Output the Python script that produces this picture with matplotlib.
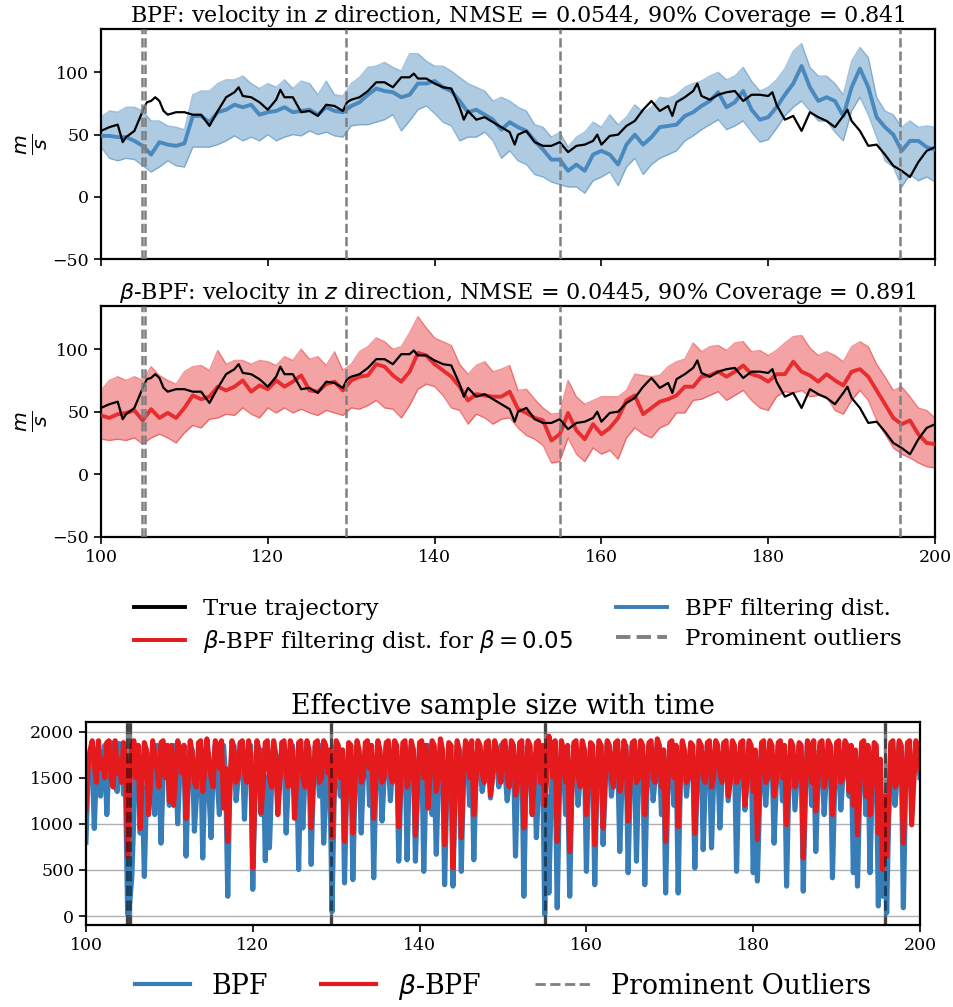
import numpy as np
import matplotlib
matplotlib.use('Agg')
import matplotlib.pyplot as plt
from matplotlib.lines import Line2D

plt.rcParams['font.family'] = 'DejaVu Serif'

# ----------------------------------------------------------
# data
# ----------------------------------------------------------
t_true = [100, 101, 102, 102.6, 103, 104, 104.5, 105, 105.5, 106, 106.5, 107, 107.5, 108, 109,
          110, 111, 112, 113, 114, 115, 116, 116.5, 117, 118, 119, 120, 121, 121.5, 122, 123,
          124, 125, 126, 127, 128, 129, 129.5, 130, 131, 132, 133, 134, 135, 136, 137, 137.5,
          138, 139, 140, 141, 142, 143, 143.5, 144, 145, 146, 147, 148, 149, 149.6, 150, 151,
          152, 153, 154, 155, 156, 157, 158, 159, 159.5, 160, 161, 162, 163, 164, 165, 166,
          167, 168, 168.5, 169, 170, 171, 171.5, 172, 173, 174, 175, 176, 177, 178, 179, 180,
          180.5, 181, 182, 183, 184, 185, 186, 187, 188, 189, 189.5, 190, 191, 192, 193, 194,
          195, 196, 197, 197.5, 198, 199, 200]
v_true = [53, 56, 58, 44, 48, 53, 61, 69, 76, 77, 80, 77, 69, 66, 68,
          68, 66, 66, 57, 69, 80, 84, 88, 81, 80, 76, 70, 78, 86, 80, 80,
          68, 69, 65, 74, 73, 69, 76, 78, 80, 85, 92, 92, 88, 96, 96, 99,
          95, 95, 91, 88, 87, 72, 62, 69, 62, 64, 60, 56, 52, 42, 50, 53,
          44, 41, 41, 44, 36, 41, 42, 45, 50, 42, 49, 50, 57, 61, 70, 77,
          69, 73, 65, 76, 80, 85, 91, 81, 78, 82, 84, 85, 77, 82, 82, 81,
          84, 74, 62, 65, 53, 68, 64, 61, 56, 65, 70, 61, 53, 41, 42, 34,
          25, 21, 16, 22, 28, 37, 40]

t_grid = np.arange(100, 201)

bpf_mean = [49, 49, 48, 48, 45, 41, 34, 44, 42, 41, 43, 65, 65, 60, 68, 70, 74, 72, 74, 66,
            68, 69, 72, 68, 69, 70, 66, 72, 69, 68, 73, 76, 82, 87, 85, 84, 80, 82, 91, 91,
            93, 88, 85, 77, 68, 70, 66, 62, 54, 60, 56, 53, 45, 38, 30, 30, 21, 26, 21, 34,
            37, 34, 26, 42, 50, 42, 48, 56, 57, 58, 65, 68, 73, 77, 84, 72, 76, 85, 70, 62,
            64, 72, 82, 91, 105, 88, 77, 80, 77, 65, 88, 103, 88, 64, 56, 50, 37, 45, 45, 40,
            38]
bpf_upper = [64, 69, 68, 72, 72, 69, 61, 61, 57, 56, 54, 82, 85, 85, 91, 94, 94, 97, 91, 87,
             91, 88, 94, 87, 93, 91, 82, 93, 82, 81, 91, 96, 104, 105, 108, 104, 101, 115, 115, 109,
             105, 105, 101, 96, 91, 88, 85, 77, 80, 77, 72, 69, 58, 56, 48, 52, 40, 48, 52, 60,
             56, 66, 58, 64, 74, 68, 72, 80, 79, 82, 88, 91, 93, 97, 100, 94, 97, 104, 93, 85,
             88, 94, 103, 117, 123, 104, 97, 97, 91, 82, 109, 120, 112, 80, 69, 66, 56, 61, 56, 57,
             56]
bpf_lower = [40, 31, 29, 31, 30, 25, 20, 24, 29, 25, 24, 40, 40, 40, 42, 45, 49, 45, 48, 45,
             50, 45, 48, 50, 49, 53, 50, 52, 49, 48, 57, 58, 58, 60, 62, 66, 53, 61, 70, 73,
             67, 60, 57, 45, 48, 48, 52, 45, 31, 37, 29, 26, 18, 16, 12, 10, 8, 8, 3, 13,
             16, 20, 9, 24, 31, 18, 26, 31, 34, 37, 45, 49, 54, 58, 62, 54, 57, 61, 52, 44,
             46, 55, 65, 72, 77, 69, 61, 61, 52, 45, 69, 80, 66, 48, 29, 24, 8, 18, 13, 16,
             12]

beta_mean = [47, 45, 48, 49, 51, 43, 52, 45, 49, 45, 53, 63, 60, 62, 70, 67, 70, 75, 66, 71,
             68, 75, 70, 74, 79, 67, 66, 72, 74, 67, 75, 78, 79, 88, 86, 79, 74, 82, 97, 95,
             88, 83, 78, 70, 59, 64, 63, 62, 62, 66, 52, 49, 45, 43, 27, 32, 49, 35, 28, 40,
             32, 37, 45, 59, 63, 48, 53, 58, 60, 63, 70, 70, 78, 79, 82, 78, 82, 87, 80, 78,
             74, 80, 80, 90, 82, 79, 74, 80, 75, 71, 82, 84, 78, 67, 56, 45, 40, 43, 32, 25,
             24]
beta_upper = [67, 75, 78, 75, 78, 75, 86, 79, 75, 72, 82, 86, 87, 83, 99, 88, 91, 91, 88, 91,
              90, 87, 94, 91, 100, 92, 94, 87, 98, 83, 88, 98, 102, 109, 106, 100, 102, 113, 126, 117,
              109, 106, 103, 88, 80, 87, 90, 82, 84, 87, 67, 68, 60, 53, 48, 49, 75, 62, 56, 59,
              62, 62, 62, 67, 80, 79, 78, 79, 86, 90, 92, 105, 98, 102, 103, 99, 105, 106, 98, 99,
              95, 99, 105, 110, 111, 101, 95, 98, 95, 90, 102, 106, 102, 88, 78, 67, 70, 62, 53, 51,
              45]
beta_lower = [28, 27, 28, 27, 29, 24, 29, 32, 29, 25, 33, 39, 37, 44, 45, 48, 47, 53, 48, 45,
              53, 49, 53, 49, 52, 49, 47, 51, 49, 47, 53, 52, 55, 59, 53, 52, 45, 55, 68, 72,
              70, 63, 53, 51, 40, 48, 45, 40, 44, 45, 37, 31, 28, 23, 9, 10, 29, 16, 10, 21,
              16, 19, 12, 29, 37, 32, 29, 37, 40, 49, 49, 59, 60, 63, 66, 59, 63, 67, 59, 53,
              51, 62, 66, 65, 67, 62, 63, 62, 51, 48, 59, 67, 59, 43, 32, 21, 16, 13, 9, 6,
              5]

outliers = [104.95, 105.3, 129.35, 155.0, 195.8]

# effective sample size, one value every quarter time unit (20 per row = 5 time units)
t_ess = np.arange(100, 200.01, 0.25)
ess_bpf = [
    800, 1500, 1780, 1700, 950, 1600, 1850, 1300, 1600, 1850, 1100, 1650, 1880, 1750, 1400, 1350, 1870, 1800, 1320, 1350,
    20, 150, 420, 1100, 1800, 1850, 900, 1400, 430, 1300, 1750, 1600, 1300, 1100, 1850, 1600, 790, 1500, 1700, 1850,
    1200, 1450, 1850, 1700, 1000, 1550, 1800, 1850, 650, 1400, 1850, 1800, 920, 1300, 1750, 1850, 630, 1500, 1800, 1350,
    850, 1600, 1850, 1450, 1100, 1800, 1850, 1500, 215, 1400, 1800, 1850, 1250, 1500, 1880, 1800, 1050, 1650, 1800, 1850,
    290, 1300, 1850, 1600, 1100, 1800, 600, 1500, 740, 1400, 1850, 1750, 1200, 1550, 1880, 1800, 900, 1450, 1750, 1850,
    1300, 1700, 505, 1600, 955, 1500, 1880, 1700, 560, 1450, 1850, 1650, 1300, 1850, 790, 1300, 1700, 1500, 50, 1250,
    1850, 1600, 1300, 1800, 360, 1350, 1800, 1850, 395, 1400, 1850, 1650, 900, 1500, 1800, 1850, 1200, 1700, 415, 1450,
    1850, 1600, 1030, 1500, 1850, 1700, 1250, 1600, 1880, 1800, 595, 1400, 1800, 1850, 610, 1500, 1850, 1800, 595, 1350,
    1800, 1850, 485, 1400, 1850, 1700, 1100, 1600, 670, 1450, 1880, 1750, 340, 1300, 1700, 1850, 325, 1350, 1850, 1800,
    485, 1500, 1850, 1700, 1200, 1800, 610, 1450, 1880, 1650, 1350, 1500, 1850, 1700, 1280, 1550, 1880, 1700, 1400, 1850,
    1800, 1550, 1250, 1450, 1850, 1750, 650, 1500, 1800, 1850, 215, 1400, 1850, 1650, 1100, 1750, 850, 1350, 1800, 1700,
    20, 1300, 250, 1200, 1850, 1600, 90, 1300, 1800, 1700, 1100, 1500, 215, 1350, 1850, 1700, 1200, 1500, 1880, 1800,
    485, 1450, 1850, 1750, 340, 1400, 1800, 1850, 775, 1450, 1880, 1700, 1300, 1550, 1850, 1700, 700, 1400, 1800, 1850,
    470, 1400, 1850, 1700, 595, 1500, 1880, 1750, 340, 1350, 1850, 1650, 1250, 1500, 1880, 1700, 1100, 1800, 250, 1300,
    1850, 1650, 1200, 1800, 250, 1400, 1880, 1700, 1300, 1550, 1850, 1750, 520, 1400, 1800, 1850, 720, 1450, 1850, 1750,
    740, 1450, 1850, 1700, 955, 1500, 1880, 1700, 1250, 1550, 1850, 1750, 485, 1400, 1850, 1650, 1150, 1500, 1880, 1800,
    470, 1300, 380, 1200, 1850, 1700, 1200, 1550, 1880, 1750, 790, 1400, 1850, 1700, 1250, 1800, 325, 1350, 1850, 1700,
    1150, 1500, 1850, 1750, 270, 1350, 1880, 1700, 1200, 1800, 700, 1400, 1850, 1650, 1100, 1500, 1880, 1750, 415, 1350,
    1850, 1650, 1150, 1500, 1880, 1700, 1300, 1800, 470, 1500, 325, 1300, 1850, 1700, 1100, 1800, 470, 1400, 1800, 1700,
    110, 1400, 215, 1200, 35, 1100, 1850, 1700, 1200, 1500, 1880, 1750, 90, 1300, 1850, 1650, 1300, 1550, 1880, 1700,
    1500]
ess_beta = [
    1150, 1600, 1800, 1900, 1650, 1450, 1900, 1600, 1700, 1500, 1880, 1900, 1500, 1400, 1900, 1550, 1700, 1450, 1880, 1700,
    650, 1400, 1850, 1900, 1500, 1850, 950, 1500, 1880, 1800, 1100, 1450, 1900, 1750, 1600, 1400, 1880, 1900, 1500, 1850,
    1240, 1850, 1200, 1500, 1900, 1800, 1550, 1850, 1060, 1450, 1900, 1750, 1450, 1400, 1880, 1900, 1350, 1600, 1920, 1700,
    1500, 1400, 1900, 1850, 1600, 1900, 1170, 1600, 810, 1350, 1900, 1800, 1450, 1500, 1880, 1900, 1550, 1450, 1900, 1750,
    520, 1300, 1900, 1800, 1120, 1450, 1880, 1900, 1500, 1400, 1900, 1750, 1100, 1450, 1880, 1900, 1550, 1400, 1900, 1800,
    1060, 1450, 1880, 1900, 1500, 1400, 1900, 1800, 955, 1400, 1880, 1900, 1450, 1500, 1900, 1850, 1550, 1800, 850, 1350,
    1900, 1850, 1500, 1800, 810, 1400, 1880, 1850, 900, 1450, 1900, 1800, 1450, 1500, 1880, 1900, 1600, 1850, 1060, 1450,
    1900, 1800, 1450, 1500, 1880, 1900, 1550, 1450, 1900, 1850, 970, 1450, 1880, 1900, 1400, 1500, 1900, 1800, 875, 1400,
    1880, 1900, 1500, 1850, 1170, 1500, 1900, 1850, 1350, 1500, 1920, 1800, 775, 1400, 1880, 1850, 520, 1350, 1900, 1800,
    850, 1450, 1900, 1850, 1500, 1900, 1100, 1450, 1900, 1850, 1550, 1450, 1880, 1900, 1310, 1500, 1900, 1800, 1550, 1450,
    1880, 1900, 1500, 1400, 1900, 1850, 1310, 1450, 1880, 1900, 955, 1400, 1900, 1850, 1100, 1500, 1880, 1900, 1450, 1850,
    1200, 1500, 1950, 1850, 1500, 1900, 810, 1400, 1900, 1800, 1450, 1850, 700, 1350, 1880, 1900, 1500, 1400, 1900, 1800,
    1100, 1450, 1880, 1850, 775, 1400, 1900, 1850, 955, 1450, 1900, 1850, 1500, 1400, 1880, 1900, 1350, 1500, 1900, 1800,
    1030, 1450, 1880, 1900, 1450, 1500, 1900, 1850, 1100, 1450, 1880, 1900, 1500, 1450, 1920, 1850, 1400, 1800, 810, 1400,
    1880, 1900, 1500, 1850, 970, 1450, 1900, 1800, 1450, 1500, 1880, 1850, 900, 1400, 1900, 1850, 1500, 1450, 1880, 1900,
    1400, 1500, 1900, 1850, 1550, 1450, 1880, 1900, 1300, 1450, 1900, 1850, 1450, 1500, 1880, 1900, 1200, 1450, 1900, 1850,
    1350, 1800, 830, 1400, 1880, 1900, 1450, 1500, 1900, 1850, 1300, 1450, 1880, 1900, 1500, 1850, 990, 1450, 1900, 1850,
    1400, 1500, 1880, 1850, 630, 1350, 1900, 1850, 1450, 1900, 1140, 1450, 1880, 1900, 1400, 1500, 1900, 1850, 1100, 1450,
    1880, 1900, 1450, 1500, 1900, 1850, 1350, 1850, 1200, 1800, 880, 1400, 1880, 1900, 1300, 1850, 1100, 1450, 1880, 1850,
    900, 1700, 505, 1300, 650, 1200, 1880, 1900, 1400, 1450, 1900, 1850, 790, 1400, 1880, 1900, 990, 1450, 1900, 1850,
    1600]

BLUE = '#377eb8'
RED = '#e41a1c'

fig = plt.figure(figsize=(9.54, 10.07), dpi=100)
ax1 = fig.add_axes([0.1059, 0.7425, 0.8742, 0.2284])
ax2 = fig.add_axes([0.1059, 0.4670, 0.8742, 0.2291])
ax3 = fig.add_axes([0.0901, 0.0811, 0.8743, 0.2016])


def traj_panel(ax, mean, upper, lower, color, title, labels):
    ax.fill_between(t_grid, lower, upper, color=color, alpha=0.4, lw=0)
    ax.plot(t_grid, upper, color=color, alpha=0.45, lw=1)
    ax.plot(t_grid, lower, color=color, alpha=0.45, lw=1)
    ax.plot(t_true, v_true, color='k', lw=1.6, zorder=4)
    ax.plot(t_grid, mean, color=color, lw=2.8, alpha=0.85, zorder=3)
    for o in outliers:
        ax.axvline(o, color='gray', ls='--', lw=1.8, zorder=5)
    ax.set_xlim(100, 200)
    ax.set_ylim(-50, 134.5)
    ax.set_yticks([-50, 0, 50, 100])
    ax.set_xticks([100, 120, 140, 160, 180, 200])
    if not labels:
        ax.set_xticklabels([])
    ax.set_ylabel(r'$\frac{m}{s}$', fontsize=21, labelpad=2)
    ax.set_title(title, fontsize=16, pad=4)
    ax.tick_params(labelsize=12.5, width=1.2, length=5)
    for s in ax.spines.values():
        s.set_linewidth(1.6)


traj_panel(ax1, bpf_mean, bpf_upper, bpf_lower, BLUE,
           r'BPF: velocity in $z$ direction, NMSE = 0.0544, 90% Coverage = 0.841', False)
traj_panel(ax2, beta_mean, beta_upper, beta_lower, RED,
           r'$\beta$-BPF: velocity in $z$ direction, NMSE = 0.0445, 90% Coverage = 0.891', True)

h = [Line2D([], [], color='k', lw=2.8),
     Line2D([], [], color=RED, lw=2.8),
     Line2D([], [], color=BLUE, lw=2.8),
     Line2D([], [], color='gray', lw=2.8, ls='--')]
lab = ['True trajectory', r'$\beta$-BPF filtering dist. for $\beta = 0.05$',
       'BPF filtering dist.', 'Prominent outliers']
ax2.legend(h, lab, ncol=2, loc='upper center', bbox_to_anchor=(0.5, -0.175),
           frameon=False, fontsize=16.5, columnspacing=1.9, handlelength=2.2,
           labelspacing=0.35)

# ESS panel
ax3.plot(t_ess, ess_bpf, color=BLUE, lw=3.7)
ax3.plot(t_ess, ess_beta, color=RED, lw=3.7)
for o in outliers:
    ax3.axvline(o, color='gray', lw=2.5, zorder=0)
    ax3.axvline(o, color='k', ls='--', lw=2, alpha=0.5, zorder=5)
ax3.set_xlim(100, 200)
ax3.set_ylim(-100, 2100)
ax3.set_yticks([0, 500, 1000, 1500, 2000])
ax3.set_xticks([100, 120, 140, 160, 180, 200])
ax3.grid(axis='y', color='#b0b0b0', lw=1)
ax3.set_axisbelow(True)
ax3.tick_params(labelsize=12.5, width=1.2, length=5)
for s in ax3.spines.values():
    s.set_linewidth(1.6)
ax3.set_title('Effective sample size with time', fontsize=19.3, pad=6)
h3 = [Line2D([], [], color=BLUE, lw=3),
      Line2D([], [], color=RED, lw=3),
      Line2D([], [], color='gray', lw=2, ls='--')]
ax3.legend(h3, ['BPF', r'$\beta$-BPF', 'Prominent Outliers'], ncol=3, loc='upper center',
           bbox_to_anchor=(0.5, -0.105), frameon=False, fontsize=19.3, handlelength=2.05,
           columnspacing=2.0)

plt.savefig('out.png', dpi=100)
